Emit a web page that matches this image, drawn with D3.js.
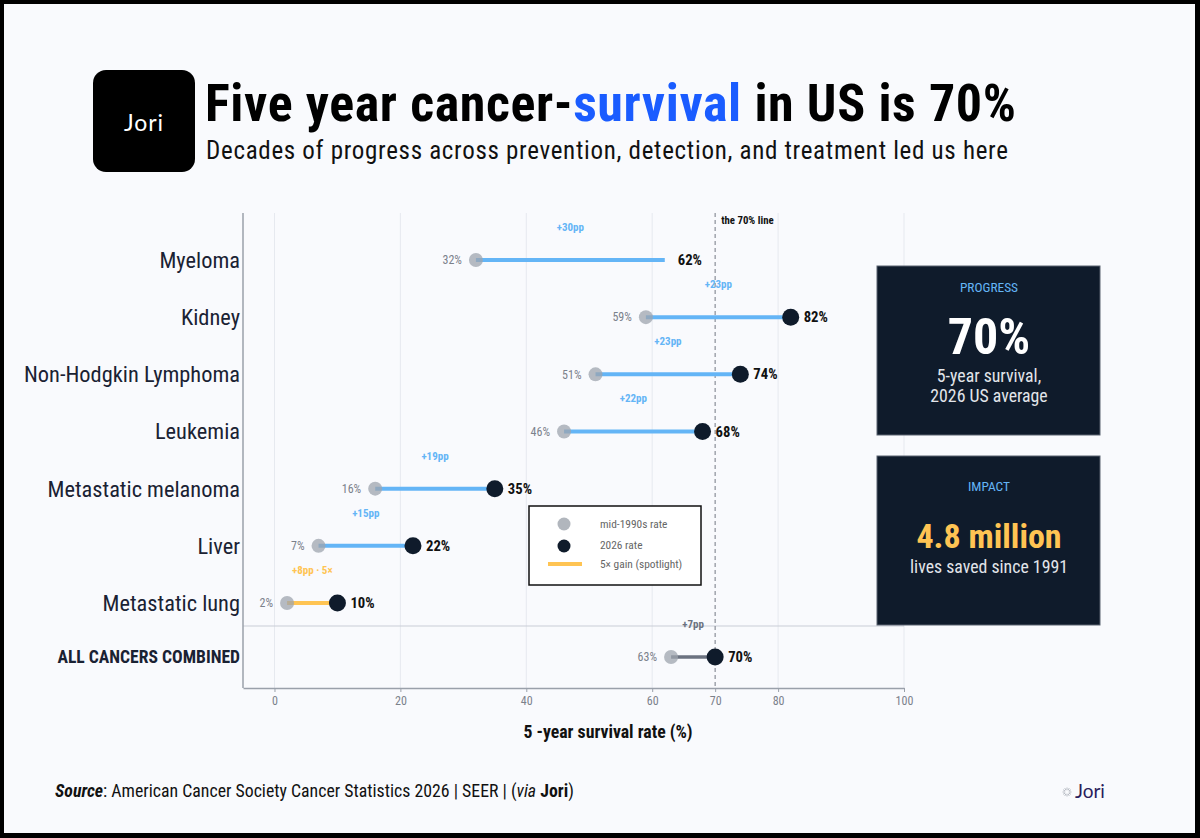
<!DOCTYPE html>
<html>
<head>
<meta charset="utf-8">
<script src="https://cdn.jsdelivr.net/npm/d3@7"></script>
<style>
  html, body { margin: 0; padding: 0; background: #000; }
  svg { display: block; }
</style>
</head>
<body>
<svg id="chart" width="1200" height="838"></svg>
<script>
// data
var categories = ["Myeloma", "Kidney", "Non-Hodgkin Lymphoma", "Leukemia",
                  "Metastatic melanoma", "Liver", "Metastatic lung", "ALL CANCERS COMBINED"];
var rate1990s = [32, 59, 51, 46, 16, 7, 2, 63];
var rate2026 = [62, 82, 74, 68, 35, 22, 10, 70];
var deltaLabels = ["+30pp", "+23pp", "+23pp", "+22pp", "+19pp", "+15pp", "+8pp · 5×", "+7pp"];
var rowKind = ["gain", "gain", "gain", "gain", "gain", "gain", "spotlight", "total"];
var xTicks = [0, 20, 40, 60, 70, 80, 100];
var gridTicks = [0, 20, 40, 60, 80, 100];
var legendText = ["mid-1990s rate", "2026 rate", "5× gain (spotlight)"];

var FONT = "'Roboto Condensed', 'Liberation Sans Narrow', Roboto, sans-serif";
var NAVY = "#0f1b2b";
var BLUE = "#64b5f6";
var ORANGE = "#ffc453";
var GREY_DOT = "#9ea4ad";

var lineColor = { gain: BLUE, spotlight: ORANGE, total: "#6b7280" };

var rows = categories.map(function (c, i) {
    return { name: c, old: rate1990s[i], now: rate2026[i], delta: deltaLabels[i], kind: rowKind[i] };
});

var svg = d3.select("#chart").style("font-family", FONT);

// page + frame
svg.append("rect").attr("width", 1200).attr("height", 838).attr("fill", "#000");
svg.append("rect").attr("x", 4).attr("y", 4).attr("width", 1191).attr("height", 829).attr("fill", "#f9fafd");

// header
svg.append("rect").attr("x", 93).attr("y", 70).attr("width", 102).attr("height", 102)
    .attr("rx", 13).attr("fill", "#000");
svg.append("text").attr("x", 144).attr("y", 131).attr("text-anchor", "middle")
    .attr("fill", "#fff").style("font-family", "Lato, 'Open Sans', sans-serif")
    .style("font-size", "23px").style("letter-spacing", "1px")
    .text("Jori");

var title = svg.append("text").attr("x", 205).attr("y", 121)
    .style("font-size", "52px").style("font-weight", 700).style("letter-spacing", "0.6px")
    .attr("fill", "#000");
title.append("tspan").text("Five year cancer-");
title.append("tspan").attr("fill", "#1a5cff").text("survival");
title.append("tspan").text(" in US is 70%");

svg.append("text").attr("x", 206).attr("y", 159).style("font-size", "25px")
    .style("letter-spacing", "0.7px").attr("fill", "#111")
    .text("Decades of progress across prevention, detection, and treatment led us here");

// scales
var x = d3.scaleLinear().domain([-5, 100]).range([243, 904]);
var yRows = d3.scalePoint().domain(categories.slice(0, 7)).range([260, 603]);
function y(name) {
    return name === "ALL CANCERS COMBINED" ? yRows(categories[6]) + 54 : yRows(name);
}
var yTop = 213, yBottom = 688;

var plot = svg.append("g");

plot.selectAll(".grid").data(gridTicks).enter().append("line")
    .attr("x1", function (d) { return x(d); }).attr("x2", function (d) { return x(d); })
    .attr("y1", yTop).attr("y2", yBottom)
    .attr("stroke", "#e6e9ef").attr("stroke-width", 1);

// separator before the total row
var sepY = y(categories[6]) + 23;
plot.append("line").attr("x1", 243).attr("x2", 904).attr("y1", sepY).attr("y2", sepY)
    .attr("stroke", "#c9cdd6").attr("stroke-width", 1);

// 70% reference
plot.append("line").attr("x1", x(70)).attr("x2", x(70)).attr("y1", yTop).attr("y2", yBottom)
    .attr("stroke", "#8a8f98").attr("stroke-width", 1.2).attr("stroke-dasharray", "4,3");
plot.append("text").attr("x", x(70) + 6).attr("y", 224)
    .style("font-size", "10.8px").style("font-weight", 700).attr("fill", "#111")
    .text("the 70% line");

// axes
var xAxis = d3.axisBottom(x).tickValues(xTicks).tickSize(4).tickSizeOuter(0).tickPadding(4);
var gx = plot.append("g").attr("transform", "translate(0," + yBottom + ")").call(xAxis);
gx.select(".domain").attr("stroke", "#9aa0aa").attr("stroke-width", 1.5);
gx.selectAll(".tick line").attr("stroke", "#9aa0aa");
gx.selectAll(".tick text").attr("fill", "#7b818b").style("font-size", "12px").style("font-family", FONT);

plot.append("line").attr("x1", 243).attr("x2", 243).attr("y1", yTop).attr("y2", yBottom)
    .attr("stroke", "#9aa0aa").attr("stroke-width", 1.5);

plot.selectAll(".cat").data(categories).enter().append("text")
    .attr("x", 240).attr("y", function (d) { return y(d); }).attr("dy", "0.35em")
    .attr("text-anchor", "end").attr("fill", "#1a2233")
    .style("font-size", function (d) { return d === "ALL CANCERS COMBINED" ? "17.6px" : "22.4px"; })
    .style("font-weight", function (d) { return d === "ALL CANCERS COMBINED" ? 700 : 400; })
    .text(function (d) { return d; });

// dumbbells
var g = plot.selectAll(".row").data(rows).enter().append("g")
    .attr("transform", function (d) { return "translate(0," + y(d.name) + ")"; });

g.append("line")
    .attr("x1", function (d) { return x(d.old); }).attr("x2", function (d) { return x(d.now); })
    .attr("stroke", function (d) { return lineColor[d.kind]; })
    .attr("stroke-width", function (d) { return d.kind === "total" ? 3.5 : 4; });

g.append("circle").attr("cx", function (d) { return x(d.old); }).attr("r", 7)
    .attr("fill", GREY_DOT).attr("fill-opacity", 0.75);

// the reference shows no end dot on the Myeloma row
g.filter(function (d) { return d.name !== "Myeloma"; }).append("circle")
    .attr("cx", function (d) { return x(d.now); }).attr("r", 8.5).attr("fill", NAVY);

g.append("text").attr("x", function (d) { return x(d.old) - 14; }).attr("dy", "0.35em")
    .attr("text-anchor", "end").style("font-size", "12px").attr("fill", "#7b818b")
    .text(function (d) { return d.old + "%"; });

g.append("text").attr("x", function (d) { return x(d.now) + 13; }).attr("dy", "0.35em")
    .style("font-size", "14.7px").style("font-weight", 700).attr("fill", "#111")
    .text(function (d) { return d.now + "%"; });

g.append("text").attr("x", function (d) { return x((d.old + d.now) / 2); }).attr("y", -33)
    .attr("dy", "0.35em").attr("text-anchor", "middle")
    .style("font-size", "11px").style("font-weight", 700)
    .attr("fill", function (d) { return lineColor[d.kind]; })
    .text(function (d) { return d.delta; });

// x axis title
svg.append("text").attr("x", 608).attr("y", 738).attr("text-anchor", "middle")
    .style("font-size", "17.8px").style("font-weight", 700).attr("fill", "#111")
    .text("5 -year survival rate (%)");

// legend
var lg = svg.append("g").attr("transform", "translate(529,506)");
lg.append("rect").attr("width", 172).attr("height", 79).attr("fill", "#fff")
    .attr("stroke", "#111").attr("stroke-width", 1.5);
lg.append("circle").attr("cx", 35).attr("cy", 18).attr("r", 6.5).attr("fill", GREY_DOT).attr("fill-opacity", 0.8);
lg.append("circle").attr("cx", 35).attr("cy", 40).attr("r", 6.5).attr("fill", NAVY);
lg.append("line").attr("x1", 19).attr("x2", 53).attr("y1", 58).attr("y2", 58)
    .attr("stroke", ORANGE).attr("stroke-width", 4);
lg.selectAll(".lt").data(legendText).enter().append("text")
    .attr("x", 71).attr("y", function (d, i) { return [18, 39, 58][i]; }).attr("dy", "0.35em")
    .style("font-size", "11.4px").attr("fill", "#666").text(function (d) { return d; });

// side panels
function panel(y0, label, labelY) {
    var p = svg.append("g").attr("transform", "translate(877," + y0 + ")");
    p.append("rect").attr("width", 223).attr("height", 169).attr("fill", NAVY)
        .attr("stroke", "#5a6370").attr("stroke-width", 1);
    p.append("text").attr("x", 112).attr("y", labelY).attr("text-anchor", "middle")
        .style("font-size", "13.4px").attr("fill", BLUE).text(label);
    return p;
}
var p1 = panel(266, "PROGRESS", 26);
p1.append("text").attr("x", 112).attr("y", 88).attr("text-anchor", "middle")
    .style("font-size", "50px").style("font-weight", 700).attr("fill", "#fff").text("70%");
p1.append("text").attr("x", 112).attr("y", 116).attr("text-anchor", "middle")
    .style("font-size", "17.8px").attr("fill", "#e2e5ea").text("5-year survival,");
p1.append("text").attr("x", 112).attr("y", 136).attr("text-anchor", "middle")
    .style("font-size", "17.8px").attr("fill", "#e2e5ea").text("2026 US average");

var p2 = panel(456, "IMPACT", 35);
p2.append("text").attr("x", 112).attr("y", 92).attr("text-anchor", "middle")
    .style("font-size", "34px").style("font-weight", 700).attr("fill", ORANGE).text("4.8 million");
p2.append("text").attr("x", 112).attr("y", 117).attr("text-anchor", "middle")
    .style("font-size", "17.8px").attr("fill", "#e2e5ea").text("lives saved since 1991");

// footer
var src = svg.append("text").attr("x", 55).attr("y", 797).style("font-size", "17.8px").attr("fill", "#111");
src.append("tspan").style("font-weight", 700).style("font-style", "italic").text("Source");
src.append("tspan").text(": American Cancer Society Cancer Statistics 2026 | SEER | (");
src.append("tspan").style("font-style", "italic").text("via");
src.append("tspan").style("font-weight", 700).text(" Jori");
src.append("tspan").text(")");

var logo = svg.append("g").attr("transform", "translate(1067,792)");
logo.selectAll("line").data(d3.range(12)).enter().append("line")
    .attr("x1", function (i) { return Math.cos(i * Math.PI / 6) * 2; })
    .attr("y1", function (i) { return Math.sin(i * Math.PI / 6) * 2; })
    .attr("x2", function (i) { return Math.cos(i * Math.PI / 6) * 4.5; })
    .attr("y2", function (i) { return Math.sin(i * Math.PI / 6) * 4.5; })
    .attr("stroke", "#b8bcc4").attr("stroke-width", 1);
svg.append("text").attr("x", 1075).attr("y", 798).style("font-family", "Lato, 'Open Sans', sans-serif")
    .style("font-size", "19px").attr("fill", "#2b1d5c").text("Jori");
</script>
</body>
</html>
